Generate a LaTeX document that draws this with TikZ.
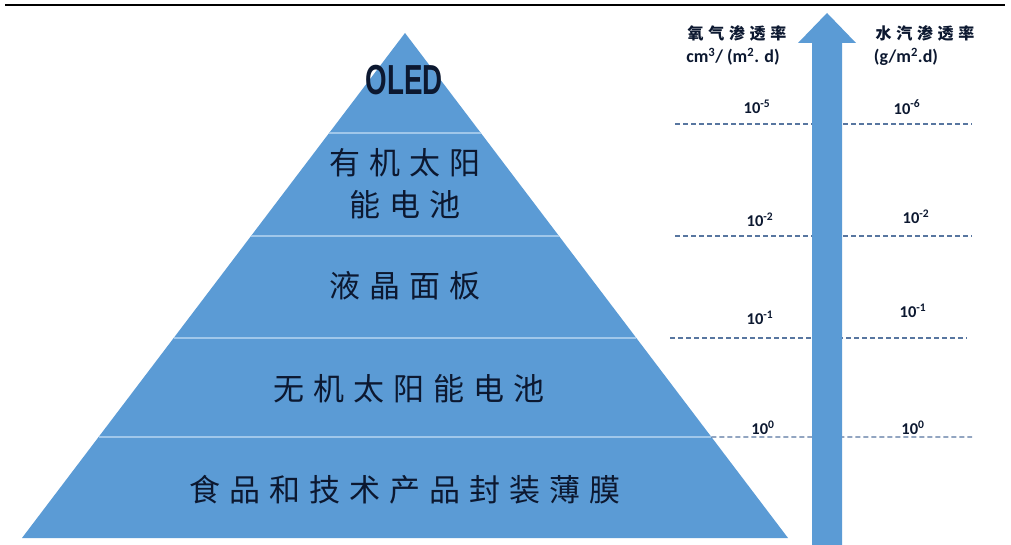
\documentclass[tikz,border=0pt]{standalone}
\usepackage{fontspec}
\usepackage{graphicx}
\setmainfont{Carlito}
\newfontfamily\cjk[LetterSpace=29]{Noto Sans CJK SC}
\newfontfamily\oledfont{Liberation Sans}
\usetikzlibrary{calc}
\definecolor{pyrblue}{RGB}{91,155,213}
\definecolor{divblue}{RGB}{160,199,234}
\definecolor{dashcol}{RGB}{88,118,160}
\definecolor{txtdark}{RGB}{12,24,48}
\tikzset{
  tier/.style={font=\cjk\fontsize{31}{40}\selectfont, text=txtdark, align=center, inner sep=0pt},
  head/.style={font=\cjk\bfseries\fontsize{16}{18}\selectfont, text=txtdark, inner sep=0pt},
  unit/.style={font=\bfseries\fontsize{18}{20}\selectfont, text=txtdark, inner sep=0pt},
  val/.style={font=\bfseries\fontsize{16.5}{18}\selectfont, text=txtdark, inner sep=0pt},
  divider/.style={draw=divblue, line width=2.5pt},
  dashline/.style={draw=dashcol, line width=1.3pt, dash pattern=on 5pt off 3pt},
}
\begin{document}
\begin{tikzpicture}[x=1pt,y=-1pt]
\useasboundingbox (0,0) rectangle (1011,545);
\fill[white] (0,0) rectangle (1011,545);
% top rule
\coordinate (tl) at (5,5);
\coordinate (tr) at (1005,5);
\draw[line width=2.6pt,black] (tl) -- (tr);
% pyramid
\coordinate (apex) at (405,33);
\coordinate (bl) at (22,538);
\coordinate (br) at (788,538);
\fill[pyrblue] (apex) -- (br) -- (bl) -- cycle;
\foreach \t/\n in {0.198/a,0.402/b,0.604/c,0.8/d}{
  \coordinate (L\n) at ($(apex)!\t!(bl)$);
  \coordinate (R\n) at ($(apex)!\t!(br)$);
  \draw[divider] (L\n) -- (R\n);
}
% tier texts
\node (oled) at (404,80) {\scalebox{0.66}[1]{\oledfont\bfseries\fontsize{42}{42}\selectfont\color{txtdark}OLED}};
\node[tier] (t2) at (405,184) {有机太阳\\[2pt]能电池};
\node[tier] (t3) at (405,286) {液晶面板};
\node[tier] (t4) at (409,389) {无机太阳能电池};
\node[tier] (t5) at (405,490) {食品和技术产品封装薄膜};
% dashed levels
\coordinate (d1l) at (675,124); \coordinate (d1r) at (972,124);
\coordinate (d2l) at (675,236); \coordinate (d2r) at (972,236);
\coordinate (d3l) at (670,338); \coordinate (d3r) at (967,338);
\coordinate (d4r) at (972,437);
\draw[dashline] (d1l) -- (d1r);
\draw[dashline] (d2l) -- (d2r);
\draw[dashline] (d3l) -- (d3r);
\draw[dashline] (Rd) -- (d4r);
% arrow
\coordinate (tip) at (827,13);
\fill[pyrblue] (812,545) -- (812,43) -- (798,43) -- (tip) -- (856,43) -- (842,43) -- (842,545) -- cycle;
% headers
\node[head] (h1) at (737,33) {氧气渗透率};
\node[unit] (u1) at (733,57) {cm\textsuperscript{3}/ (m\textsuperscript{2}. d)};
\node[head] (h2) at (925,33) {水汽渗透率};
\node[unit] (u2) at (906,57) {(g/m\textsuperscript{2}.d)};
% values
\node[val] (v1l) at (757,107) {10\textsuperscript{-5}};
\node[val] (v1r) at (907,107) {10\textsuperscript{-6}};
\node[val] (v2l) at (760,220) {10\textsuperscript{-2}};
\node[val] (v2r) at (916,217) {10\textsuperscript{-2}};
\node[val] (v3l) at (760,318) {10\textsuperscript{-1}};
\node[val] (v3r) at (913,311) {10\textsuperscript{-1}};
\node[val] (v4l) at (763,428) {10\textsuperscript{0}};
\node[val] (v4r) at (913,428) {10\textsuperscript{0}};
\end{tikzpicture}
\end{document}
